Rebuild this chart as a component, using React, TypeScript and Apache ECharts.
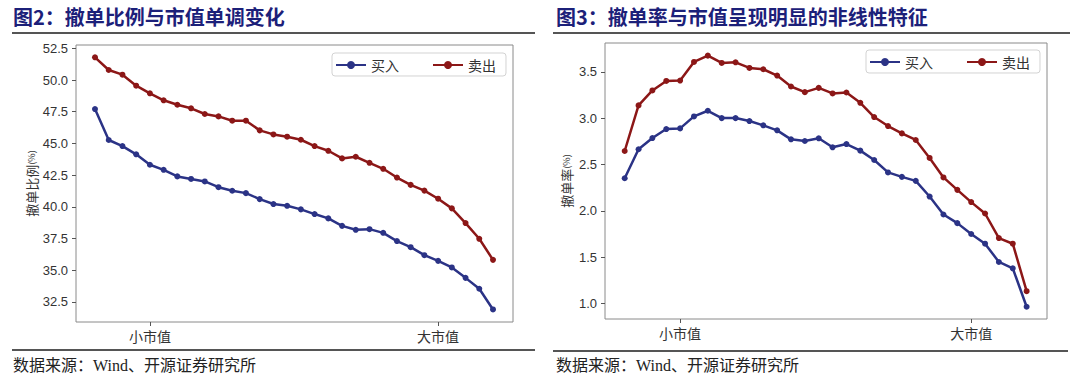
import React, { useEffect, useRef } from "react";
import * as echarts from "echarts";

// x positions (30 market-cap buckets, small → large)
const buckets = Array.from({ length: 30 }, (_, i) => i);
const tickIdx = [4, 25];
const tickLabels = ["小市值", "大市值"];

// Figure 2: cancellation ratio (%)
const buyRatio = [47.71, 45.27, 44.79, 44.14, 43.32, 42.92, 42.4, 42.2, 42.0, 41.55, 41.27, 41.08, 40.61, 40.22, 40.08, 39.8, 39.43, 39.09, 38.5, 38.19, 38.24, 37.95, 37.3, 36.82, 36.19, 35.74, 35.22, 34.4, 33.54, 31.91];
const sellRatio = [51.79, 50.79, 50.42, 49.55, 48.95, 48.4, 48.05, 47.77, 47.32, 47.13, 46.79, 46.79, 46.03, 45.71, 45.53, 45.29, 44.79, 44.42, 43.82, 43.95, 43.47, 43.0, 42.31, 41.73, 41.28, 40.64, 39.88, 38.72, 37.48, 35.82];
const ratioTicks = [32.5, 35.0, 37.5, 40.0, 42.5, 45.0, 47.5, 50.0, 52.5];

// Figure 3: cancellation rate (%)
const buyRate = [2.353, 2.666, 2.787, 2.884, 2.891, 3.02, 3.081, 3.002, 3.002, 2.97, 2.924, 2.87, 2.773, 2.755, 2.784, 2.687, 2.722, 2.651, 2.55, 2.416, 2.368, 2.325, 2.156, 1.962, 1.869, 1.752, 1.647, 1.45, 1.382, 0.967];
const sellRate = [2.647, 3.139, 3.3, 3.403, 3.407, 3.608, 3.676, 3.597, 3.604, 3.543, 3.529, 3.461, 3.343, 3.282, 3.328, 3.268, 3.278, 3.167, 3.013, 2.916, 2.837, 2.766, 2.572, 2.362, 2.228, 2.096, 1.973, 1.708, 1.647, 1.135];
const rateTicks = [1.0, 1.5, 2.0, 2.5, 3.0, 3.5];

const seriesNames = ["买入", "卖出"];
const title2 = "图2：撤单比例与市值单调变化";
const title3 = "图3：撤单率与市值呈现明显的非线性特征";
const source = "数据来源：Wind、开源证券研究所";

const BLUE = "#2b3386";
const RED = "#8c1717";
const CJK = "'Noto Sans CJK SC', sans-serif";
const NUM = "'Liberation Sans', 'Noto Sans CJK SC', sans-serif";

const pairs = (vals: number[]) => buckets.map((i) => [i, vals[i]]);

function xAxisOf(gridIndex: number, min: number, max: number) {
  return {
    type: "value",
    gridIndex,
    min,
    max,
    axisLine: { show: false, onZero: false },
    splitLine: { show: false },
    axisTick: { show: true, length: 4, customValues: tickIdx, lineStyle: { color: "#555" } },
    axisLabel: {
      customValues: tickIdx,
      margin: 7,
      fontSize: 14,
      color: "#333",
      fontFamily: CJK,
      formatter: (v: number) => {
        const k = tickIdx.indexOf(Math.round(v));
        return k >= 0 ? tickLabels[k] : "";
      },
    },
  };
}

function yAxisOf(gridIndex: number, min: number, max: number, ticks: number[], name: string, gap: number, digits: number) {
  return {
    type: "value",
    gridIndex,
    min,
    max,
    name: `{a|${name}}{b|(%)}`,
    nameLocation: "middle",
    nameGap: gap,
    nameRotate: 90,
    nameTextStyle: {
      rich: {
        a: { fontSize: 13, color: "#333", fontFamily: CJK },
        b: { fontSize: 9, color: "#333", fontFamily: CJK },
      },
    },
    axisLine: { show: false, onZero: false },
    splitLine: { show: false },
    axisTick: { show: true, length: 4, customValues: ticks, lineStyle: { color: "#555" } },
    axisLabel: {
      customValues: ticks,
      margin: 8,
      fontSize: 13,
      color: "#333",
      fontFamily: NUM,
      formatter: (v: number) => v.toFixed(digits),
    },
  };
}

function lineSeries(name: string, color: string, vals: number[], axisIndex: number) {
  return {
    type: "line",
    name,
    xAxisIndex: axisIndex,
    yAxisIndex: axisIndex,
    data: pairs(vals),
    symbol: "circle",
    symbolSize: 6,
    showSymbol: true,
    lineStyle: { color, width: 2.5 },
    itemStyle: { color },
    z: 3,
  };
}

function legendOf(left: number, top: number) {
  return {
    left,
    top,
    orient: "horizontal",
    data: seriesNames,
    itemWidth: 30,
    itemHeight: 10,
    itemGap: 33,
    padding: [5, 10, 4, 3],
    backgroundColor: "#fff",
    borderColor: "#d3d3d3",
    borderWidth: 1,
    borderRadius: 3,
    textStyle: { fontSize: 14, color: "#333", fontFamily: CJK },
    selectedMode: false,
  };
}

export default function App() {
  const ref = useRef<HTMLDivElement>(null);

  useEffect(() => {
    if (!ref.current) return;
    const chart = echarts.init(ref.current, null, { renderer: "svg" });
    const option = {
      animation: false,
      backgroundColor: "#fff",
      grid: [
        { left: 76, top: 45, width: 437, height: 277, show: true, borderColor: "#8a8a8a", borderWidth: 1, backgroundColor: "transparent" },
        { left: 605, top: 43, width: 442, height: 276, show: true, borderColor: "#8a8a8a", borderWidth: 1, backgroundColor: "transparent" },
      ],
      xAxis: [xAxisOf(0, -1.384, 30.457), xAxisOf(1, -1.42, 30.47)],
      yAxis: [
        yAxisOf(0, 30.92, 52.76, ratioTicks, "撤单比例", 38, 1),
        yAxisOf(1, 0.835, 3.812, rateTicks, "撤单率", 32, 1),
      ],
      legend: [legendOf(332, 53), legendOf(866, 50)],
      series: [
        lineSeries(seriesNames[0], BLUE, buyRatio, 0),
        lineSeries(seriesNames[1], RED, sellRatio, 0),
        lineSeries(seriesNames[0], BLUE, buyRate, 1),
        lineSeries(seriesNames[1], RED, sellRate, 1),
      ],
      graphic: [
        { type: "text", left: 13, top: 6, style: { text: title2, fontSize: 20, fontWeight: "bold", fill: "#1c2079", fontFamily: CJK } },
        { type: "text", left: 556, top: 6, style: { text: title3, fontSize: 20, fontWeight: "bold", fill: "#1c2079", fontFamily: CJK } },
        { type: "line", shape: { x1: 12, y1: 33, x2: 535, y2: 33 }, style: { stroke: "#555", lineWidth: 2 } },
        { type: "line", shape: { x1: 553, y1: 33, x2: 1070, y2: 33 }, style: { stroke: "#555", lineWidth: 2 } },
        { type: "line", shape: { x1: 12, y1: 350, x2: 535, y2: 350 }, style: { stroke: "#555", lineWidth: 2 } },
        { type: "line", shape: { x1: 553, y1: 351, x2: 1068, y2: 351 }, style: { stroke: "#555", lineWidth: 2 } },
        { type: "text", left: 13, top: 357, style: { text: source, fontSize: 16, fill: "#222", fontFamily: "'Liberation Serif', 'Noto Sans CJK SC', serif" } },
        { type: "text", left: 556, top: 357, style: { text: source, fontSize: 16, fill: "#222", fontFamily: "'Liberation Serif', 'Noto Sans CJK SC', serif" } },
      ],
    };
    chart.setOption(option as any);
    return () => chart.dispose();
  }, []);

  return <div ref={ref} style={{ position: "fixed", left: 0, top: 0, width: 1080, height: 384, background: "#fff" }} />;
}
